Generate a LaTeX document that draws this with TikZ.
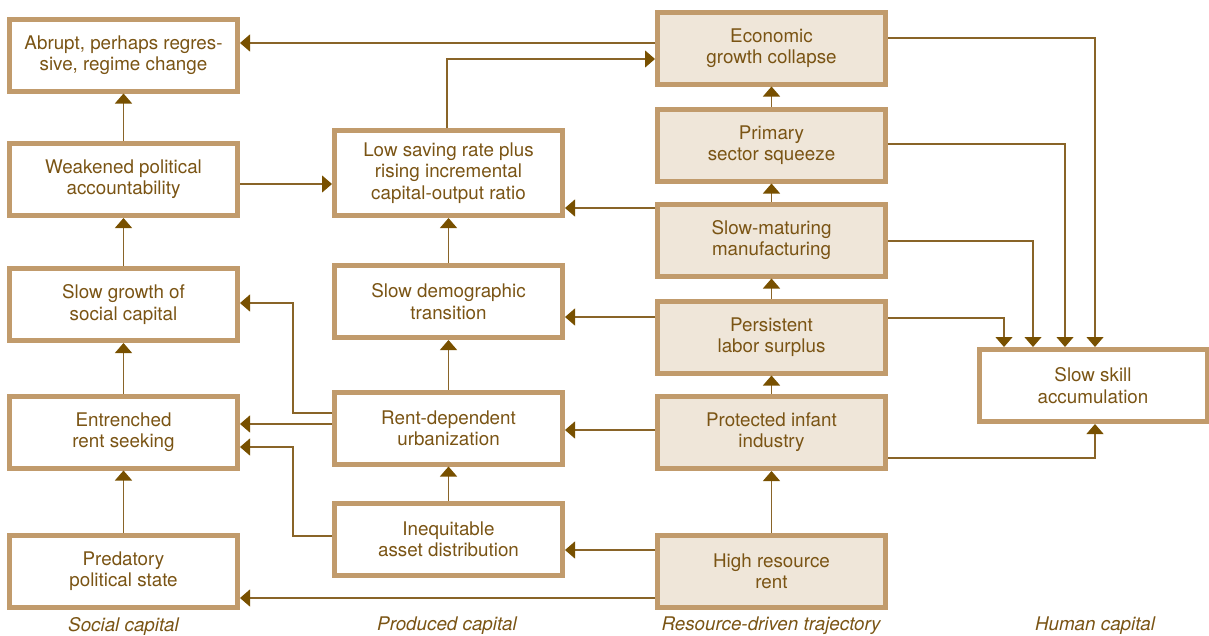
\documentclass[tikz,border=0pt]{standalone}
\usepackage{fontspec}
\setmainfont{TeX Gyre Heros}
\usetikzlibrary{arrows.meta}
\definecolor{bordc}{RGB}{193,155,108}
\definecolor{fillc}{RGB}{239,230,217}
\definecolor{txtc}{RGB}{122,84,20}
\definecolor{linec}{RGB}{137,100,40}
\definecolor{tipc}{RGB}{120,80,0}
\begin{document}
\begin{tikzpicture}[x=1pt,y=-1pt,
 box/.style={draw=bordc,line width=5pt,minimum width=228pt,minimum height=72pt,inner sep=0pt,align=center,text=txtc,font=\fontsize{18.8}{21.3}\selectfont},
 rbox/.style={box,fill=fillc},
 conn/.style={draw=linec,line width=1.2pt,-{Triangle[length=10pt,width=17pt,color=tipc]}},
 lab/.style={text=txtc,font=\fontsize{18.8}{21}\selectfont\itshape}]
\useasboundingbox (0,0) rectangle (1209,635);
% social capital column
\node[box] (abr) at (123.5,55) {Abrupt, perhaps regres-\\sive, regime change};
\node[box] (wk) at (123.5,179.5) {Weakened political\\accountability};
\node[box] (sg) at (123.5,304.5) {Slow growth of\\social capital};
\node[box] (ent) at (123.5,432) {Entrenched\\rent seeking};
\node[box] (pred) at (123.5,571.5) {Predatory\\political state};
% produced capital column
\node[box,minimum height=85pt] (low) at (448.5,173) {Low saving rate plus\\rising incremental\\capital-output ratio};
\node[box] (sd) at (448.5,301.5) {Slow demographic\\transition};
\node[box] (rd) at (448.5,428) {Rent-dependent\\urbanization};
\node[box] (ineq) at (448.5,539.5) {Inequitable\\asset distribution};
% resource-driven trajectory
\node[rbox] (eco) at (771.5,48) {Economic\\growth collapse};
\node[rbox] (prim) at (771.5,145) {Primary\\sector squeeze};
\node[rbox] (sm) at (771.5,240) {Slow-maturing\\manufacturing};
\node[rbox] (pls) at (771.5,337) {Persistent\\labor surplus};
\node[rbox] (pii) at (771.5,432.5) {Protected infant\\industry};
\node[rbox] (hrr) at (771.5,571.5) {High resource\\rent};
% human capital
\node[box] (ssk) at (1093,385.5) {Slow skill\\accumulation};
% column labels
\node[lab] (l1) at (123.5,626) {Social capital};
\node[lab] (l2) at (447,626) {Produced capital};
\node[lab] (l3) at (771,626) {Resource-driven trajectory};
\node[lab] (l4) at (1095,626) {Human capital};
% vertical connectors
\draw[conn] (wk.north) -- (abr.south);
\draw[conn] (sg.north) -- (wk.south);
\draw[conn] (ent.north) -- (sg.south);
\draw[conn] (pred.north) -- (ent.south);
\draw[conn] (sd.north) -- (low.south);
\draw[conn] (rd.north) -- (sd.south);
\draw[conn] (ineq.north) -- (rd.south);
\draw[conn] (prim.north) -- (eco.south);
\draw[conn] (sm.north) -- (prim.south);
\draw[conn] (pls.north) -- (sm.south);
\draw[conn] (pii.north) -- (pls.south);
\draw[conn] (hrr.north) -- (pii.south);
% horizontal connectors
\draw[conn] (eco.west |- 0,43) -- (abr.east |- 0,43);
\draw[conn] (low.north -| 447,0) |- (eco.west |- 0,59);
\draw[conn] (wk.east |- 0,184) -- (low.west |- 0,184);
\draw[conn] (sm.west |- 0,208) -- (low.east |- 0,208);
\draw[conn] (pls.west |- 0,317) -- (sd.east |- 0,317);
\draw[conn] (pii.west |- 0,430) -- (rd.east |- 0,430);
\draw[conn] (hrr.west |- 0,550) -- (ineq.east |- 0,550);
\draw[conn] (hrr.west |- 0,598) -- (pred.east |- 0,598);
\draw[conn] (rd.west |- 0,424) -- (ent.east |- 0,424);
\draw[conn] (rd.west |- 0,413) -- (293,413) |- (sg.east |- 0,303);
\draw[conn] (ineq.west |- 0,536) -- (293,536) |- (ent.east |- 0,447);
% to slow skill accumulation
\draw[conn] (eco.east |- 0,38) -| (ssk.north -| 1095,0);
\draw[conn] (prim.east |- 0,144) -| (ssk.north -| 1065,0);
\draw[conn] (sm.east |- 0,241) -| (ssk.north -| 1033,0);
\draw[conn] (pls.east |- 0,318) -| (ssk.north -| 1004,0);
\draw[conn] (pii.east |- 0,458) -| (ssk.south -| 1095,0);
\end{tikzpicture}
\end{document}
